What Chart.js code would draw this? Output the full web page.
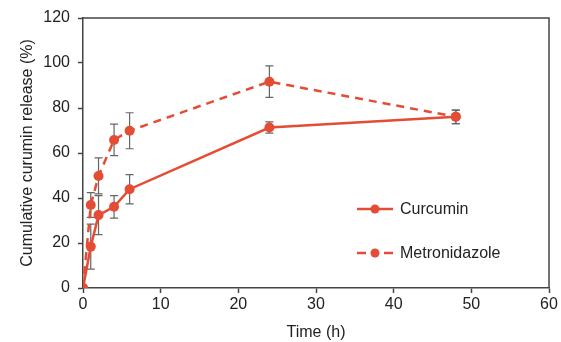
<!DOCTYPE html>
<html lang="en">
<head>
<meta charset="UTF-8">
<script src="https://cdn.jsdelivr.net/npm/chart.js"></script>
<title>Release</title>
<style>
  html, body { margin: 0; padding: 0; background: #fff; }
  #wrap { width: 561px; height: 342px; }
</style>
</head>
<body>
<div id="wrap"><canvas id="grafico" width="561" height="342"></canvas></div>

<script>
// time points (h)
const tempos = [0, 1, 2, 4, 6, 24, 48];
const curcumin = [0, 18.4, 32.4, 36.1, 43.9, 71.3, 76.1];
const curcuminErro = [0, 10, 8.7, 5, 6.5, 2.5, 3];
const metronidazol = [0, 36.9, 49.8, 65.8, 69.9, 91.7, 76.1];
const metronidazolErro = [0, 5.5, 8, 7, 8, 7, 3];
const ticksX = [0, 10, 20, 30, 40, 50, 60];
const ticksY = [0, 20, 40, 60, 80, 100, 120];
const nomes = ['Curcumin', 'Metronidazole'];

const vermelho = 'rgb(228,76,52)';
const cinza = '#444';
const fonte = "'Liberation Sans', Arial, sans-serif";

function pontos(ys) {
  return tempos.map((t, i) => ({ x: t, y: ys[i] }));
}

// error bars, top/right frame and legend
const extras = {
  id: 'extras',
  beforeDatasetsDraw(chart) {
    const ctx = chart.ctx;
    const x = chart.scales.x, y = chart.scales.y;
    const erros = [curcuminErro, metronidazolErro];
    ctx.save();
    ctx.strokeStyle = '#666';
    ctx.lineWidth = 1.2;
    chart.data.datasets.forEach((ds, d) => {
      ds.data.forEach((p, i) => {
        const e = erros[d][i];
        if (!e) return;
        const px = x.getPixelForValue(p.x);
        const y1 = y.getPixelForValue(p.y + e);
        const y2 = y.getPixelForValue(p.y - e);
        ctx.beginPath();
        ctx.moveTo(px, y1); ctx.lineTo(px, y2);
        ctx.moveTo(px - 4, y1); ctx.lineTo(px + 4, y1);
        ctx.moveTo(px - 4, y2); ctx.lineTo(px + 4, y2);
        ctx.stroke();
      });
    });
    ctx.restore();
  },
  afterDraw(chart) {
    const ctx = chart.ctx;
    const a = chart.chartArea;
    ctx.save();
    ctx.strokeStyle = cinza;
    ctx.lineWidth = 1.5;
    ctx.beginPath();
    ctx.moveTo(a.left, a.top);
    ctx.lineTo(a.right, a.top);
    ctx.lineTo(a.right, a.bottom);
    ctx.stroke();

    // legenda
    const linhas = [209, 253];
    chart.data.datasets.forEach((ds, d) => {
      const ly = linhas[d];
      ctx.strokeStyle = vermelho;
      ctx.lineWidth = 2.5;
      ctx.beginPath();
      if (ds.borderDash) {
        ctx.moveTo(357, ly); ctx.lineTo(366, ly);
        ctx.moveTo(384, ly); ctx.lineTo(393, ly);
      } else {
        ctx.moveTo(357, ly); ctx.lineTo(393, ly);
      }
      ctx.stroke();
      ctx.fillStyle = vermelho;
      ctx.beginPath();
      ctx.arc(375, ly, 4.5, 0, Math.PI * 2);
      ctx.fill();
      ctx.fillStyle = '#222';
      ctx.font = '16px ' + fonte;
      ctx.textBaseline = 'middle';
      ctx.fillText(nomes[d], 400, ly + 1);
    });
    ctx.restore();
  }
};

const ctx_Graf = document.getElementById('grafico');

new Chart(ctx_Graf, {
  type: 'scatter',
  data: {
    datasets: [{
      label: nomes[0],
      data: pontos(curcumin),
      showLine: true,
      borderColor: vermelho,
      backgroundColor: vermelho,
      borderWidth: 2.5,
      pointRadius: 5,
      pointBorderWidth: 0
    }, {
      label: nomes[1],
      data: pontos(metronidazol),
      showLine: true,
      borderColor: vermelho,
      backgroundColor: vermelho,
      borderWidth: 2.5,
      borderDash: [8, 6],
      pointRadius: 5,
      pointBorderWidth: 0
    }]
  },
  options: {
    responsive: false,
    animation: false,
    devicePixelRatio: 1,
    layout: { padding: { top: 18, right: 12, left: 0, bottom: 0 } },
    plugins: {
      legend: { display: false },
      tooltip: { enabled: false }
    },
    scales: {
      x: {
        type: 'linear',
        min: 0, max: 60,
        afterBuildTicks: s => { s.ticks = ticksX.map(v => ({ value: v })); },
        afterFit: s => { s.height = 54; },
        border: { color: cinza, width: 1.5 },
        grid: { drawOnChartArea: false, drawTicks: true, tickLength: 5, color: cinza, tickWidth: 1.5 },
        ticks: { color: '#222', font: { family: fonte, size: 16 }, padding: 2, maxRotation: 0 },
        title: { display: true, text: 'Time (h)', color: '#222', font: { family: fonte, size: 16 }, padding: { top: 0, bottom: 0 } }
      },
      y: {
        min: 0, max: 120,
        afterBuildTicks: s => { s.ticks = ticksY.map(v => ({ value: v })); },
        afterFit: s => { s.width = 83; },
        border: { color: cinza, width: 1.5 },
        grid: { drawOnChartArea: false, drawTicks: true, tickLength: 5, color: cinza, tickWidth: 1.5 },
        ticks: { color: '#222', font: { family: fonte, size: 16 }, padding: 8 },
        title: { display: true, text: 'Cumulative curumin release (%)', color: '#222', font: { family: fonte, size: 16 }, padding: { top: 18, bottom: 0 } }
      }
    }
  },
  plugins: [extras]
});
</script>
</body>
</html>
